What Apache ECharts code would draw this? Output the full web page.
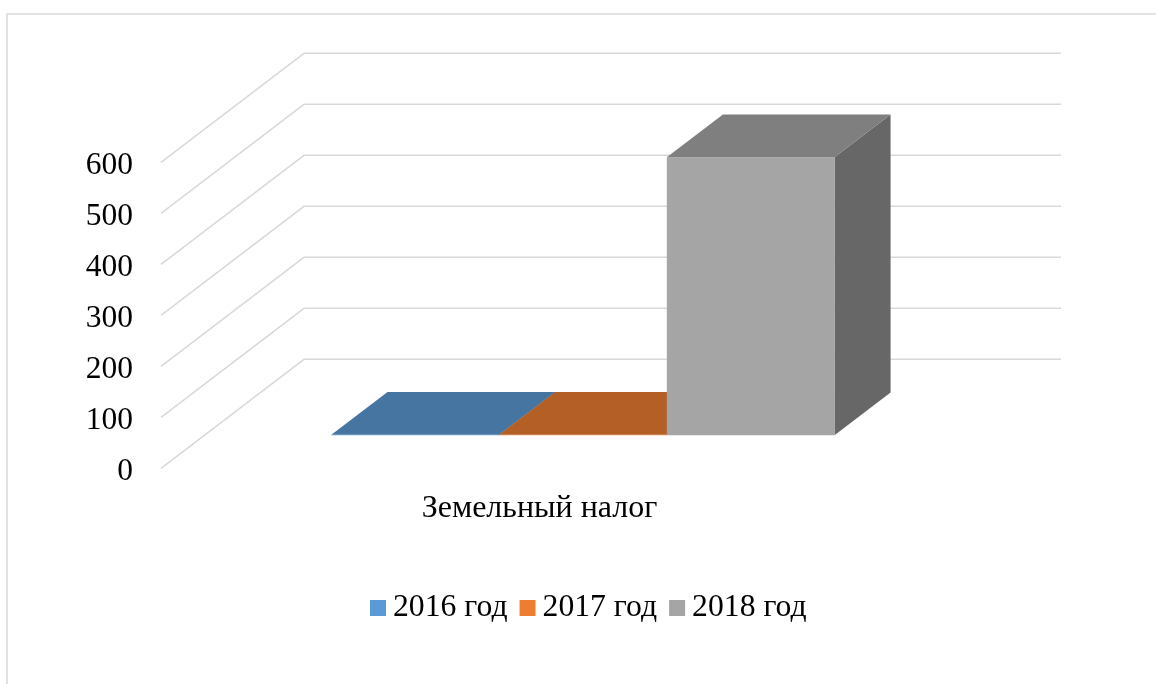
<!DOCTYPE html>
<html>
<head>
<meta charset="utf-8">
<style>
  html, body { margin: 0; padding: 0; background: #fff; }
  #chart { width: 1156px; height: 684px; }
</style>
<script src="https://cdn.jsdelivr.net/npm/echarts@6/dist/echarts.min.js"></script>
</head>
<body>
<div id="chart"></div>
<script>
const categories = ["Земельный налог"];
const yTicks = [0, 100, 200, 300, 400, 500, 600];
const seriesNames = ["2016 год", "2017 год", "2018 год"];
const values2016 = [1];
const values2017 = [1];
const values2018 = [545];

const frontColors = ["#5b9bd5", "#ed7d31", "#a5a5a5"];
const topColors = ["#4675a1", "#b35f25", "#7f7f7f"];
const sideColors = ["#37597b", "#8a481c", "#676767"];

// fake 3d: the wall sits this far up and right of the front plane
const DEPTH_X = 143;
const DEPTH_Y = 109;
const BAR_DEPTH_FROM = 0.304;
const BAR_DEPTH_TO = 0.696;
const GAP_RATIO = 1.514;
const FONT = '"Liberation Serif", "Times New Roman", serif';

const shift = (p, d) => [p[0] + DEPTH_X * d, p[1] - DEPTH_Y * d];

const renderWall = (params, api) => {
  const band = api.size([1, 0])[0];
  const mid = api.coord([api.value(0), api.value(1)]);
  const front = [mid[0] - band / 2, mid[1]];
  const corner = shift(front, 1);
  return {
    type: "polyline",
    shape: { points: [front, corner, [corner[0] + band, corner[1]]] },
    style: { fill: null, stroke: "#d9d9d9", lineWidth: 1.5 },
  };
};

const renderBar = (index) => (params, api) => {
  const band = api.size([1, 0])[0];
  const barWidth = band / (seriesNames.length + GAP_RATIO);
  const base = api.coord([api.value(0), 0]);
  const top = api.coord([api.value(0), api.value(1)]);
  const x0 = base[0] + (index - seriesNames.length / 2) * barWidth;
  const x1 = x0 + barWidth;

  const a = shift([x0, base[1]], BAR_DEPTH_FROM);
  const b = shift([x1, base[1]], BAR_DEPTH_FROM);
  const c = shift([x1, top[1]], BAR_DEPTH_FROM);
  const d = shift([x0, top[1]], BAR_DEPTH_FROM);
  const bb = shift([x1, base[1]], BAR_DEPTH_TO);
  const cb = shift([x1, top[1]], BAR_DEPTH_TO);
  const db = shift([x0, top[1]], BAR_DEPTH_TO);

  return {
    type: "group",
    children: [
      { type: "polygon", shape: { points: [b, bb, cb, c] }, style: { fill: sideColors[index] } },
      { type: "polygon", shape: { points: [a, b, c, d] }, style: { fill: frontColors[index] } },
      { type: "polygon", shape: { points: [d, c, cb, db] }, style: { fill: topColors[index] } },
    ],
  };
};

const barValues = [values2016, values2017, values2018];

const chart = echarts.init(document.getElementById("chart"));
chart.setOption({
  animation: false,
  backgroundColor: "#fff",
  graphic: [
    {
      type: "polyline",
      silent: true,
      shape: { points: [[7, 684], [7, 14], [1156, 14]] },
      style: { fill: null, stroke: "#d9d9d9", lineWidth: 1.5 },
    },
  ],
  grid: { left: 161, top: 162.3, width: 757, height: 306 },
  legend: {
    data: seriesNames,
    left: 370,
    top: 592,
    padding: 0,
    itemWidth: 16,
    itemHeight: 16,
    itemGap: 12,
    icon: "rect",
    textStyle: { fontFamily: FONT, fontSize: 31.7, color: "#000", padding: [2, 0, 0, 2] },
  },
  xAxis: {
    type: "category",
    data: categories,
    axisLine: { show: false },
    axisTick: { show: false },
    axisLabel: { fontFamily: FONT, fontSize: 32, color: "#000", margin: 24 },
  },
  yAxis: {
    type: "value",
    min: 0,
    max: 600,
    interval: 100,
    axisLine: { show: false },
    axisTick: { show: false },
    splitLine: { show: false },
    axisLabel: {
      fontFamily: FONT,
      fontSize: 31.5,
      color: "#000",
      margin: 28,
      verticalAlign: "top",
      lineHeight: 6,
    },
  },
  series: [
    {
      type: "custom",
      silent: true,
      renderItem: renderWall,
      data: yTicks.map((v) => [0, v]),
      z: 1,
    },
    ...seriesNames.map((name, i) => ({
      name,
      type: "custom",
      renderItem: renderBar(i),
      itemStyle: { color: frontColors[i] },
      data: barValues[i].map((v, c) => [c, v]),
      z: 2 + i,
    })),
  ],
});
</script>
</body>
</html>
